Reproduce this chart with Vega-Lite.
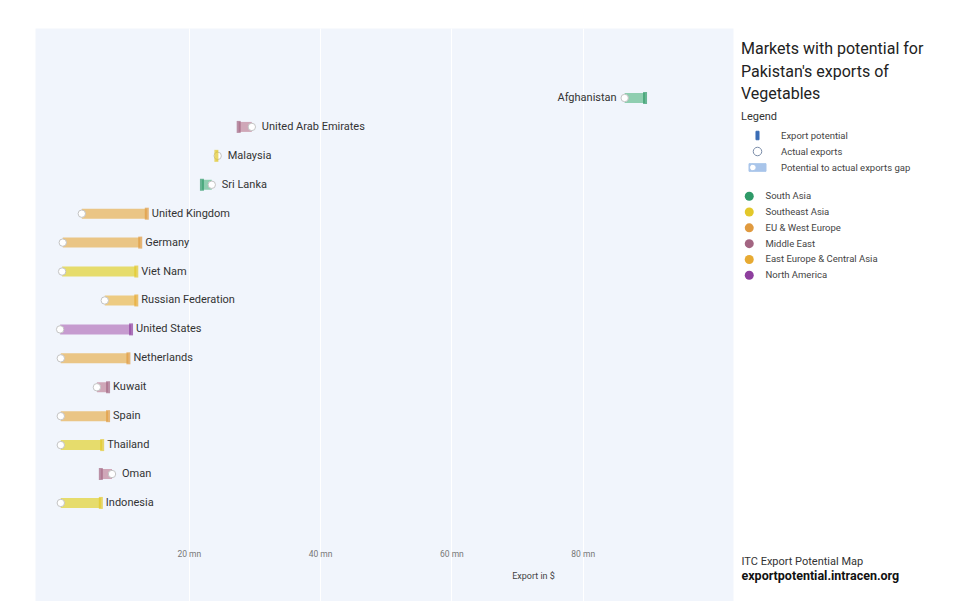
{
  "$schema": "https://vega.github.io/schema/vega-lite/v6.json",
  "width": 698,
  "height": 573,
  "padding": {"left": 35, "top": 28, "right": 0, "bottom": 0},
  "background": "white",
  "view": {"fill": "#f1f5fc", "stroke": "transparent"},
  "config": {
    "view": {"fill": "#f1f5fc", "stroke": "transparent"},
    "font": "Roboto",
    "text": {"font": "Roboto"}
  },
  "title": {
    "text": ["Markets with potential for", "Pakistan's exports of", "Vegetables"],
    "subtitle": "Legend",
    "anchor": "start",
    "frame": "group",
    "orient": "top",
    "dx": 706,
    "dy": 98,
    "fontSize": 16,
    "fontWeight": "normal",
    "font": "Roboto",
    "color": "#222222",
    "lineHeight": 22.5,
    "subtitleFontSize": 11,
    "subtitleFont": "Roboto",
    "subtitleColor": "#333333",
    "subtitlePadding": 9
  },
  "data": {
    "values": [
      {"country": "Afghanistan", "region": "South Asia", "potential": 89.5, "actual": 86.4},
      {"country": "United Arab Emirates", "region": "Middle East", "potential": 27.6, "actual": 29.6},
      {"country": "Malaysia", "region": "Southeast Asia", "potential": 24.2, "actual": 24.4},
      {"country": "Sri Lanka", "region": "South Asia", "potential": 22.0, "actual": 23.5},
      {"country": "United Kingdom", "region": "EU & West Europe", "potential": 13.6, "actual": 3.7},
      {"country": "Germany", "region": "EU & West Europe", "potential": 12.6, "actual": 0.8},
      {"country": "Viet Nam", "region": "Southeast Asia", "potential": 12.0, "actual": 0.7},
      {"country": "Russian Federation", "region": "East Europe & Central Asia", "potential": 12.0, "actual": 7.2},
      {"country": "United States", "region": "North America", "potential": 11.2, "actual": 0.4},
      {"country": "Netherlands", "region": "EU & West Europe", "potential": 10.8, "actual": 0.5},
      {"country": "Kuwait", "region": "Middle East", "potential": 7.7, "actual": 6.0},
      {"country": "Spain", "region": "EU & West Europe", "potential": 7.7, "actual": 0.5},
      {"country": "Thailand", "region": "Southeast Asia", "potential": 6.8, "actual": 0.5},
      {"country": "Oman", "region": "Middle East", "potential": 6.6, "actual": 8.3},
      {"country": "Indonesia", "region": "Southeast Asia", "potential": 6.6, "actual": 0.5}
    ]
  },
  "resolve": {
    "axis": {"x": "independent", "y": "independent"},
    "scale": {"color": "independent"}
  },
  "layer": [
    {
      "mark": {"type": "bar", "size": 10},
      "encoding": {
        "y": {
          "field": "country", "type": "nominal", "sort": null,
          "scale": {
            "type": "point", "padding": 0.905, "align": 0.232,
            "domain": [" ", "  ", "Afghanistan", "United Arab Emirates", "Malaysia", "Sri Lanka", "United Kingdom", "Germany", "Viet Nam", "Russian Federation", "United States", "Netherlands", "Kuwait", "Spain", "Thailand", "Oman", "Indonesia", "   ", "    "]
          },
          "axis": {
            "orient": "left", "labels": false, "ticks": false, "domain": false, "grid": false,
            "title": "ITC Export Potential Map", "titleAngle": 0, "titleAlign": "left",
            "titleBaseline": "middle", "titleX": 706, "titleY": 533,
            "titleFont": "Roboto", "titleFontSize": 11, "titleFontWeight": "normal", "titleColor": "#333333"
          }
        },
        "x": {
          "field": "actual", "type": "quantitative",
          "scale": {"domain": [-3.43, 102.9], "nice": false, "zero": false},
          "axis": {
            "orient": "bottom", "offset": -56, "grid": false, "ticks": false, "domain": false,
            "values": [20, 40, 60, 80], "labelExpr": "datum.value + ' mn'",
            "labelFont": "Roboto", "labelFontSize": 8.5, "labelColor": "#777777", "labelPadding": 4,
            "title": "Export in $", "titleX": 498, "titleY": 30, "titleAlign": "center", "titleBaseline": "middle",
            "titleFont": "Roboto", "titleFontSize": 9, "titleFontWeight": "normal", "titleColor": "#444444"
          }
        },
        "x2": {"field": "potential"},
        "color": {
          "field": "region", "type": "nominal", "legend": null,
          "scale": {
            "domain": ["South Asia", "Southeast Asia", "EU & West Europe", "Middle East", "East Europe & Central Asia", "North America"],
            "range": ["#8fceb0", "#e6dc6c", "#eac585", "#cfa7b8", "#edcb82", "#c69bcf"]
          }
        }
      }
    },
    {
      "mark": {"type": "point", "filled": true, "fill": "white", "stroke": "#c4c4c4", "strokeWidth": 1, "size": 55, "opacity": 1},
      "encoding": {
        "y": {"field": "country", "type": "nominal", "sort": null, "axis": null},
        "x": {
          "field": "actual", "type": "quantitative",
          "axis": {
            "orient": "top", "grid": true, "gridColor": "#ffffff", "gridWidth": 1,
            "ticks": false, "domain": false, "labels": false, "values": [20, 40, 60, 80],
            "title": "exportpotential.intracen.org", "titleX": 706, "titleY": 547,
            "titleAlign": "left", "titleBaseline": "middle",
            "titleFont": "Roboto", "titleFontSize": 12.5, "titleFontWeight": "bold", "titleColor": "#111111"
          }
        }
      }
    },
    {
      "mark": {"type": "tick", "thickness": 4, "size": 12},
      "encoding": {
        "y": {"field": "country", "type": "nominal", "sort": null, "axis": null},
        "x": {"field": "potential", "type": "quantitative", "axis": null},
        "color": {
          "field": "region", "type": "nominal",
          "scale": {
            "domain": ["South Asia", "Southeast Asia", "EU & West Europe", "Middle East", "East Europe & Central Asia", "North America"],
            "range": ["#2f9a68", "#e3c82a", "#e09a3f", "#a36582", "#e7aa32", "#8e3f9e"]
          },
          "legend": {
            "orient": "none", "legendX": 709.5, "legendY": 163.5, "title": null,
            "symbolType": "circle", "symbolSize": 81, "symbolOpacity": 1, "symbolStrokeWidth": 0,
            "labelFont": "Roboto", "labelFontSize": 9.5, "labelColor": "#444444", "labelOffset": 11.5,
            "rowPadding": 4.8, "padding": 0
          }
        }
      }
    },
    {
      "transform": [{"filter": "datum.potential >= datum.actual && datum.country !== 'Afghanistan'"}],
      "mark": {"type": "text", "align": "left", "baseline": "middle", "dx": 5, "fontSize": 11, "font": "Roboto", "color": "#333333"},
      "encoding": {
        "y": {"field": "country", "type": "nominal", "sort": null, "axis": null},
        "x": {"field": "potential", "type": "quantitative", "axis": null},
        "text": {"field": "country"}
      }
    },
    {
      "transform": [{"filter": "datum.potential < datum.actual"}],
      "mark": {"type": "text", "align": "left", "baseline": "middle", "dx": 10, "fontSize": 11, "font": "Roboto", "color": "#333333"},
      "encoding": {
        "y": {"field": "country", "type": "nominal", "sort": null, "axis": null},
        "x": {"field": "actual", "type": "quantitative", "axis": null},
        "text": {"field": "country"}
      }
    },
    {
      "transform": [{"filter": "datum.country === 'Afghanistan'"}],
      "mark": {"type": "text", "align": "right", "baseline": "middle", "dx": -8, "fontSize": 11, "font": "Roboto", "color": "#333333"},
      "encoding": {
        "y": {"field": "country", "type": "nominal", "sort": null, "axis": null},
        "x": {"field": "actual", "type": "quantitative", "axis": null},
        "text": {"field": "country"}
      }
    },
    {
      "data": {
        "values": [
          {"key": "Export potential"},
          {"key": "Actual exports"},
          {"key": "Potential to actual exports gap"}
        ]
      },
      "mark": {"type": "point", "opacity": 0},
      "encoding": {
        "shape": {
          "field": "key", "type": "nominal",
          "scale": {
            "domain": ["Export potential", "Actual exports", "Potential to actual exports gap"],
            "range": [
              "M-0.18,-0.5H0.18V0.5H-0.18Z",
              "M-0.5,0A0.5,0.5,0,1,1,0.5,0A0.5,0.5,0,1,1,-0.5,0Z",
              "M-1,-0.45H1V0.45H-1Z M-0.55,-0.38A0.38,0.38,0,1,0,-0.55,0.38A0.38,0.38,0,1,0,-0.55,-0.38Z"
            ]
          },
          "legend": {
            "orient": "none", "legendX": 713.5, "legendY": 98.5, "title": null,
            "symbolSize": 289, "symbolOpacity": 1, "symbolStrokeWidth": 1,
            "labelFont": "Roboto", "labelFontSize": 9.5, "labelColor": "#444444", "labelOffset": 14.5,
            "rowPadding": 0, "padding": 0
          }
        },
        "fill": {
          "field": "key", "type": "nominal",
          "scale": {
            "domain": ["Export potential", "Actual exports", "Potential to actual exports gap"],
            "range": ["#3a6db5", "#ffffff", "#a9c5ea"]
          }
        },
        "stroke": {
          "field": "key", "type": "nominal",
          "scale": {
            "domain": ["Export potential", "Actual exports", "Potential to actual exports gap"],
            "range": ["#3a6db5", "#7a8ca8", "#a9c5ea"]
          }
        }
      }
    }
  ]
}
